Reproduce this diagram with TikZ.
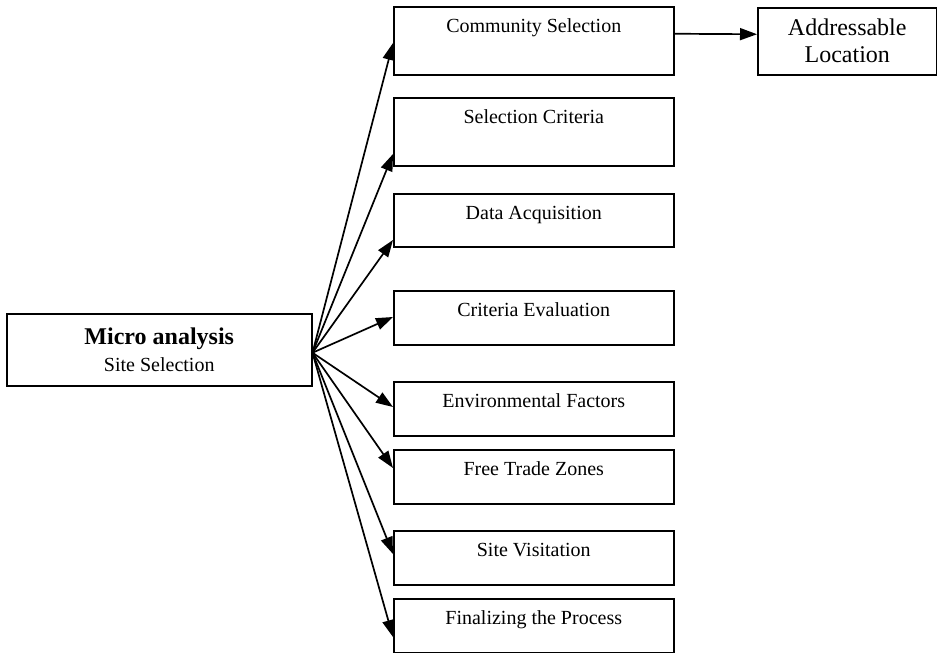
\documentclass[tikz,border=0pt]{standalone}
\usepackage{fontspec}
\setmainfont{Liberation Serif}
\usetikzlibrary{arrows.meta}
\begin{document}
\begin{tikzpicture}[x=1pt,y=-1pt,
  box/.style={draw, line width=1.5pt, rectangle, anchor=north west,
    minimum width=280pt, inner xsep=4pt, inner ysep=0pt,
    text height=26pt, font=\fontsize{20}{24}\selectfont},
  sidebox/.style={draw, line width=1.5pt, rectangle, anchor=north west,
    align=center, font=\fontsize{24}{27}\selectfont},
  arr/.style={line width=1.7pt, -{Triangle[length=17pt,width=12pt]}}]
\useasboundingbox (0,0) rectangle (937,653);

% source box
\node[draw, line width=1.5pt, rectangle, anchor=north west, align=center,
  minimum width=305pt, minimum height=72pt, inner sep=0pt]
  (src) at (6,313)
  {{\fontsize{24}{27}\selectfont\bfseries Micro analysis}\\[6pt]
   {\fontsize{20}{24}\selectfont Site Selection}};

% column of steps
\node[box, text depth=42pt] (comm) at (393,6)   {Community Selection};
\node[box, text depth=42pt] (sel)  at (393,97)  {Selection Criteria};
\node[box, text depth=27pt] (data) at (393,193) {Data Acquisition};
\node[box, text depth=28pt] (crit) at (393,290) {Criteria Evaluation};
\node[box, text depth=28pt] (env)  at (393,381) {Environmental Factors};
\node[box, text depth=28pt] (ftz)  at (393,449) {Free Trade Zones};
\node[box, text depth=28pt] (site) at (393,530) {Site Visitation};
\node[box, text depth=28pt] (fin)  at (393,598) {Finalizing the Process};

% outcome box
\node[sidebox, minimum width=179pt, minimum height=67pt, inner sep=0pt]
  (addr) at (757,7) {Addressable\\Location};

% fan of arrows from the source
\coordinate (o) at ([yshift=-3pt]src.east);
\draw[arr] (o) -- ([yshift=-37pt]comm.north west);
\draw[arr] (o) -- ([yshift=-57pt]sel.north west);
\draw[arr] (o) -- ([yshift=-47pt]data.north west);
\draw[arr] (o) -- ([yshift=-27pt]crit.north west);
\draw[arr] (o) -- ([yshift=-26pt]env.north west);
\draw[arr] (o) -- ([yshift=-19pt]ftz.north west);
\draw[arr] (o) -- ([yshift=-24pt]site.north west);
\draw[arr] (o) -- ([yshift=-39pt]fin.north west);

\draw[arr] ([yshift=7pt]comm.east) -- ([yshift=7pt]addr.west);
\end{tikzpicture}
\end{document}
